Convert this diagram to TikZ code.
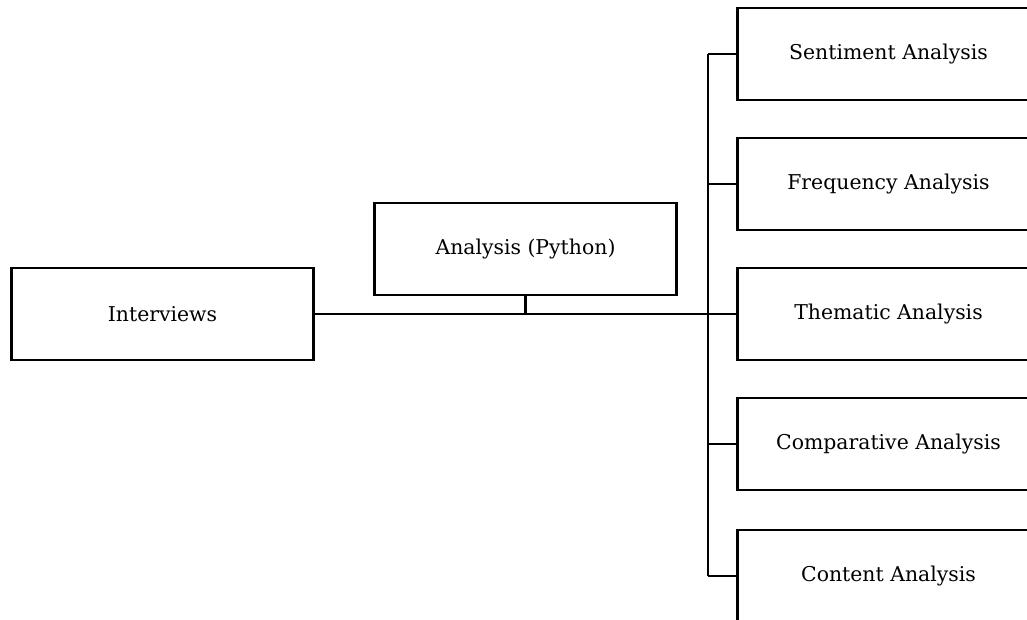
\documentclass[tikz,border=0pt]{standalone}
\usepackage{fontspec}
\setmainfont{DejaVu Serif}
\usetikzlibrary{positioning}

\tikzset{
  box/.style={draw, line width=2.2pt, minimum width=227pt, minimum height=69pt,
    inner sep=0pt, font=\fontsize{15.3}{18}\selectfont},
  link/.style={line width=2.2pt}
}

\begin{document}
\begin{tikzpicture}[x=0.75pt, y=-0.75pt]
\useasboundingbox (0,0) rectangle (1027,619);
\clip (0,0) rectangle (1027,619);

% source and tool
\node[box] (interviews) at (162.5,314) {Interviews};
\node[box] (python) at (525.5,249) {Analysis (Python)};

% the five analyses, stacked down the right side
\foreach \name/\txt/\y in {sentiment/Sentiment Analysis/54,
    frequency/Frequency Analysis/184, thematic/Thematic Analysis/314,
    comparative/Comparative Analysis/444, content/Content Analysis/576} {
    \node[box] (\name) at (888.5, \y) {\txt};
}

% connectors
\coordinate (trunk) at (708,314);
\draw[link] (interviews.east) -- (thematic.west);
\draw[link] (python.south) -- (python.south |- interviews.east);
\draw[link] (trunk |- sentiment.west) -- (trunk |- content.west);
\foreach \name in {sentiment, frequency, comparative, content} {
    \draw[link] (trunk |- \name.west) -- (\name.west);
}
\end{tikzpicture}
\end{document}
